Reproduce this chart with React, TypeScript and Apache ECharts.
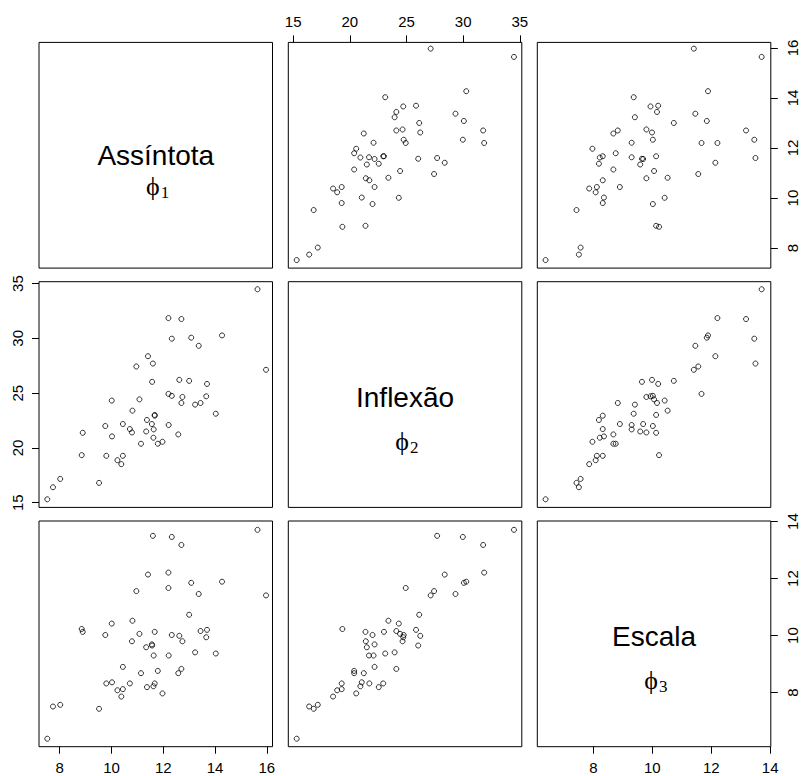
import React, { useEffect, useRef } from "react";
import * as echarts from "echarts";

// φ1 — Assíntota
const assintota = [
  7.52, 7.74, 8.02, 8.85, 8.89, 9.52, 9.76, 9.8, 10.01, 10.02, 10.23, 10.38, 10.44, 10.44,
  10.71, 10.81, 10.79, 10.96, 11.08, 11.14, 11.34, 11.37, 11.41, 11.56, 11.57, 11.6, 11.63,
  11.62, 11.67, 11.67, 11.79, 11.97, 12.2, 12.2, 12.21, 12.33, 12.33, 12.58, 12.62, 12.7,
  12.7, 12.74, 13.0, 13.08, 13.23, 13.37, 13.44, 13.66, 13.69, 14.03, 14.27, 15.64, 15.97,
];
// φ2 — Inflexão
const inflexao = [
  15.31, 16.41, 17.17, 19.34, 21.38, 16.81, 22.0, 19.28, 24.32, 21.05, 18.88, 18.52, 22.18, 19.28,
  21.72, 23.4, 21.41, 27.43, 24.43, 20.38, 21.5, 22.55, 28.37, 22.18, 26.03, 27.7, 21.69,
  20.93, 23.01, 22.94, 20.38, 20.56, 31.85, 24.93, 22.09, 29.97, 24.75, 21.23, 26.21, 31.76,
  24.1, 24.65, 26.12, 30.06, 23.95, 29.32, 24.1, 24.71, 25.84, 23.12, 30.27, 34.48, 27.13,
];
// φ3 — Escala
const escala = [
  6.38, 7.51, 7.57, 10.23, 10.13, 7.43, 10.02, 8.32, 10.42, 8.36, 8.08, 7.86, 8.9, 8.12,
  8.32, 10.52, 9.8, 11.56, 10.06, 8.68, 9.59, 8.19, 12.14, 9.69, 9.65, 13.5, 9.3,
  8.22, 10.13, 8.32, 8.76, 7.97, 12.21, 11.67, 9.3, 13.46, 10.02, 8.68, 9.99, 13.18,
  8.83, 9.8, 10.73, 11.85, 9.41, 11.46, 10.16, 9.94, 10.2, 9.37, 11.89, 13.71, 11.41,
];

const varNames = ["Assíntota", "Inflexão", "Escala"];
const varSubscripts = ["1", "2", "3"];
const axisLimits = [
  [7.2, 16.22],
  [14.57, 35.17],
  [6.1, 14.02],
];
const tickValues = [
  [8, 10, 12, 14, 16],
  [15, 20, 25, 30, 35],
  [8, 10, 12, 14],
];

const SANS = "'Liberation Sans', Arial, Helvetica, sans-serif";
const SERIF = "'Liberation Serif', 'DejaVu Serif', 'Times New Roman', serif";

export default function App() {
  const ref = useRef<HTMLDivElement>(null);

  useEffect(() => {
    if (!ref.current) return;
    const chart = echarts.init(ref.current, null, { renderer: "svg" });
    const vars = [assintota, inflexao, escala];
    const lefts = [39, 288.3, 537.3];
    const tops = [42.4, 281.7, 521];
    const W = 233.5;
    const H = 225.7;

    const grids: any[] = [];
    const xAxes: any[] = [];
    const yAxes: any[] = [];
    const series: any[] = [];
    const graphics: any[] = [];

    const makeAxis = (
      v: number,
      idx: number,
      show: boolean,
      position: string,
      vertical: boolean
    ) => ({
      type: "value",
      gridIndex: idx,
      min: axisLimits[v][0],
      max: axisLimits[v][1],
      position,
      axisLine: { show: false },
      splitLine: { show: false },
      axisTick: {
        show,
        length: 7,
        inside: false,
        customValues: tickValues[v],
        lineStyle: { color: "#000", width: 1 },
      },
      axisLabel: {
        show,
        customValues: tickValues[v],
        margin: vertical ? 14 : 13,
        rotate: vertical ? 90 : 0,
        color: "#000",
        fontSize: 15,
        fontFamily: SANS,
      },
    });

    for (let r = 0; r < 3; r++) {
      for (let c = 0; c < 3; c++) {
        const idx = r * 3 + c;
        grids.push({
          left: lefts[c],
          top: tops[r],
          width: W,
          height: H,
          show: true,
          borderColor: "#000",
          borderWidth: 1,
          backgroundColor: "transparent",
        });
        const showTop = r === 0 && c === 1;
        const showBottom = r === 2 && (c === 0 || c === 2);
        const showLeft = c === 0 && r === 1;
        const showRight = c === 2 && (r === 0 || r === 2);
        xAxes.push(makeAxis(c, idx, showTop || showBottom, showTop ? "top" : "bottom", false));
        yAxes.push(makeAxis(r, idx, showLeft || showRight, showLeft ? "left" : "right", true));
        if (r !== c) {
          series.push({
            type: "scatter",
            xAxisIndex: idx,
            yAxisIndex: idx,
            data: vars[c].map((v, i) => [v, vars[r][i]]),
            symbol: "circle",
            symbolSize: 5,
            silent: true,
            itemStyle: { color: "rgba(0,0,0,0)", borderColor: "#000", borderWidth: 1 },
          });
        } else {
          const cx = lefts[c] + W / 2;
          const cy = tops[r] + H / 2;
          const nameDy = r === 0 ? 0 : 3;
          const symDy = r === 0 ? 31 : 47;
          graphics.push({
            type: "text",
            x: cx,
            y: cy + nameDy,
            style: {
              text: varNames[r],
              font: `28px ${SANS}`,
              fill: "#000",
              textAlign: "center",
              textVerticalAlign: "middle",
            },
          });
          graphics.push({
            type: "text",
            x: cx - 3,
            y: cy + symDy,
            style: {
              text: "ϕ",
              font: `26px ${SERIF}`,
              fill: "#000",
              textAlign: "center",
              textVerticalAlign: "middle",
            },
          });
          graphics.push({
            type: "text",
            x: cx + 5,
            y: cy + symDy + 6,
            style: {
              text: varSubscripts[r],
              font: `17px ${SERIF}`,
              fill: "#000",
              textAlign: "left",
              textVerticalAlign: "middle",
            },
          });
        }
      }
    }

    chart.setOption({
      animation: false,
      backgroundColor: "#fff",
      grid: grids,
      xAxis: xAxes,
      yAxis: yAxes,
      series,
      graphic: graphics,
    });

    return () => chart.dispose();
  }, []);

  return (
    <div
      ref={ref}
      style={{ position: "fixed", left: 0, top: 0, width: 801, height: 776, background: "#fff" }}
    />
  );
}
